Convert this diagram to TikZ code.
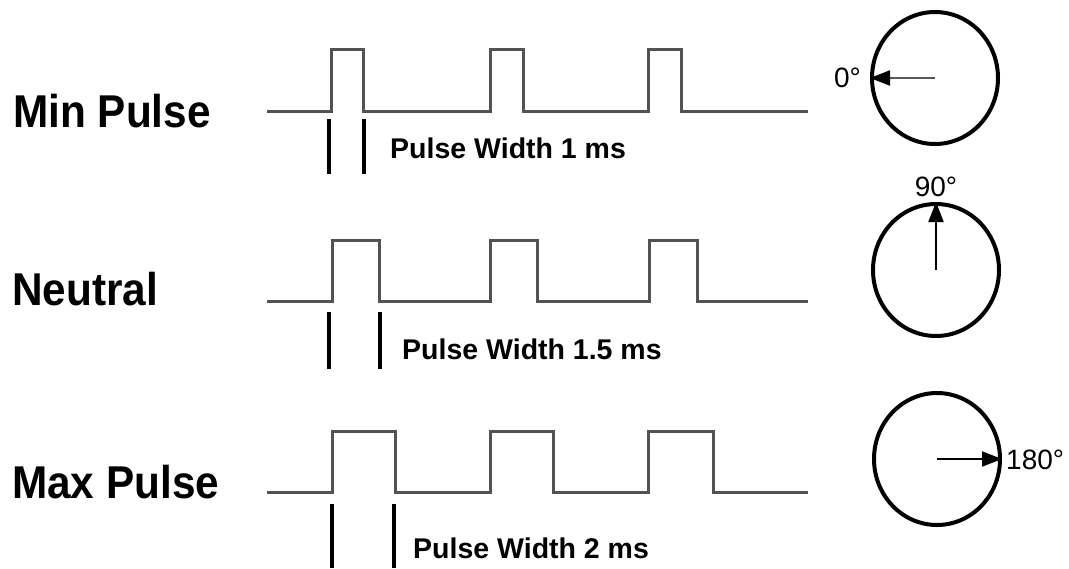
\documentclass[tikz,border=0pt]{standalone}
\usepackage{fontspec}
\setmainfont{Liberation Sans}
\usetikzlibrary{shapes.geometric,arrows.meta}
\tikzset{
  pulse/.style={draw=black!68,line width=3pt,line join=miter},
  marker/.style={draw=black,line width=4pt},
  rowlabel/.style={anchor=base west,inner sep=0pt,font=\fontsize{46}{50}\selectfont\bfseries},
  pwlabel/.style={anchor=west,inner sep=0pt,font=\fontsize{28.5}{31}\selectfont\bfseries},
  deglabel/.style={inner sep=0pt,font=\fontsize{28}{30}\selectfont},
  dial/.style={ellipse,draw=black,line width=4pt,minimum width=126pt,minimum height=132pt,inner sep=0pt},
  needle/.style={line width=2pt,-{Triangle[length=20pt,width=15pt,color=black]}}
}
\begin{document}
\begin{tikzpicture}[x=1pt,y=-1pt]
\useasboundingbox (0,0) rectangle (1069,568);
% row labels
\node[rowlabel] (l1) at (13,127) {\scalebox{0.92}[1]{Min Pulse}};
\node[rowlabel] (l2) at (12,305) {\scalebox{0.92}[1]{Neutral}};
\node[rowlabel] (l3) at (12,498) {\scalebox{0.92}[1]{Max Pulse}};
% pulse trains
\draw[pulse] (267,111) -- (331,111) -- (331,49) -- (363,49) -- (363,111) -- (490,111) -- (490,49) -- (523,49) -- (523,111) -- (648,111) -- (648,49) -- (681,49) -- (681,111) -- (808,111);
\draw[pulse] (267,301) -- (332,301) -- (332,240) -- (379,240) -- (379,301) -- (490,301) -- (490,240) -- (537,240) -- (537,301) -- (649,301) -- (649,240) -- (697,240) -- (697,301) -- (808,301);
\draw[pulse] (267,492) -- (332,492) -- (332,431) -- (395,431) -- (395,492) -- (490,492) -- (490,431) -- (553,431) -- (553,492) -- (648,492) -- (648,431) -- (713,431) -- (713,492) -- (808,492);
% width markers
\coordinate (m1a) at (329,119); \coordinate (m1b) at (329,174);
\coordinate (m1c) at (364,119); \coordinate (m1d) at (364,174);
\draw[marker] (m1a) -- (m1b); \draw[marker] (m1c) -- (m1d);
\coordinate (m2a) at (329,312); \coordinate (m2b) at (329,369);
\coordinate (m2c) at (380,312); \coordinate (m2d) at (380,369);
\draw[marker] (m2a) -- (m2b); \draw[marker] (m2c) -- (m2d);
\coordinate (m3a) at (332,504); \coordinate (m3b) at (332,568);
\coordinate (m3c) at (394,504); \coordinate (m3d) at (394,568);
\draw[marker] (m3a) -- (m3b); \draw[marker] (m3c) -- (m3d);
% pulse width labels
\node[pwlabel] (p1) at (390,148) {Pulse Width 1 ms};
\node[pwlabel] (p2) at (402,349) {Pulse Width 1.5 ms};
\node[pwlabel] (p3) at (413,548) {Pulse Width 2 ms};
% dials
\node[dial] (c1) at (935,78) {};
\node[dial] (c2) at (936,270) {};
\node[dial] (c3) at (937,459) {};
\draw[needle,draw=black!65] (c1.center) -- (c1.west);
\draw[needle] (c2.center) -- (c2.north);
\draw[needle] (c3.center) -- (c3.east);
\node[deglabel,anchor=east] (d1) at (861,78) {0°};
\node[deglabel,anchor=south] (d2) at (936,197) {90°};
\node[deglabel,anchor=west] (d3) at (1006,460) {180°};
\end{tikzpicture}
\end{document}
